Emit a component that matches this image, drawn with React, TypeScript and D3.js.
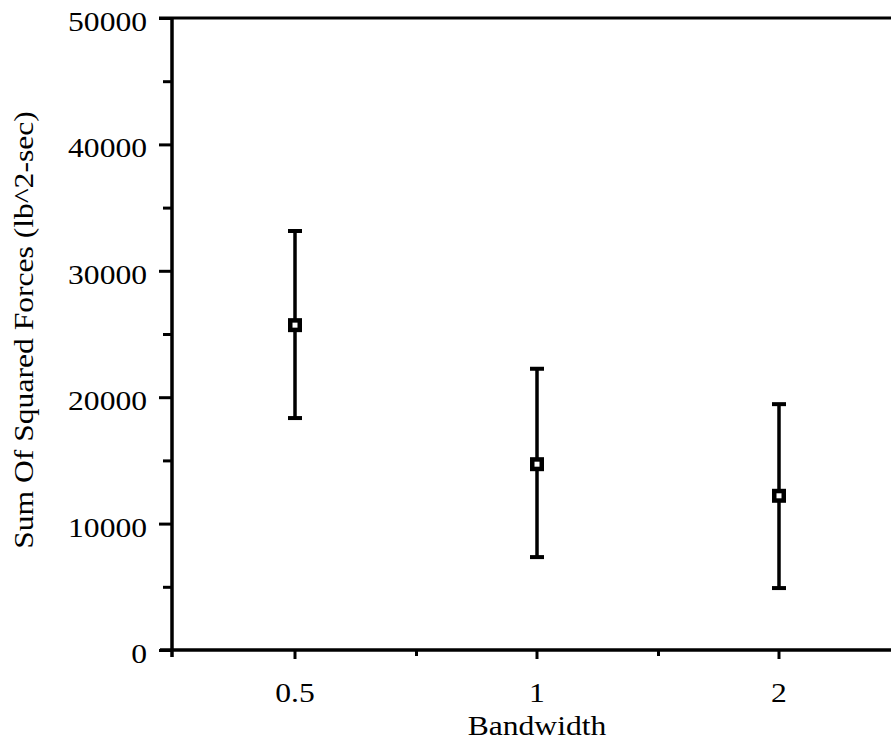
import React, { useEffect, useRef } from 'react';
import * as d3 from 'd3';

// values (lb^2-sec)
const bandwidths = ['0.5', '1', '2'];
const meanForce = [25700, 14700, 12200];
const upperForce = [33150, 22250, 19450];
const lowerForce = [18350, 7350, 4900];
const yMajorTicks = [0, 10000, 20000, 30000, 40000, 50000];
const yMinorTicks = [5000, 15000, 25000, 35000, 45000];

const W = 891;
const H = 744;
const FONT = '"Liberation Serif", "Times New Roman", serif';
const FS = 27;
const STRETCH = 1.17; // the old Mac serif is wider than Times

const App = () => {
  const ref = useRef<SVGSVGElement>(null);

  useEffect(() => {
    const svg = d3.select(ref.current);
    svg.selectAll('*').remove();

    const y = d3.scaleLinear().domain([0, 50000]).range([650, 18]);
    const x = d3.scaleBand().domain(bandwidths).range([174, 900]);
    const xc = (d: string) => (x(d) as number) + x.bandwidth() / 2;
    const axisX = 172;
    const rows = bandwidths.map((b, i) => ({ b, mean: meanForce[i], hi: upperForce[i], lo: lowerForce[i] }));

    // frame: top line, y axis, x axis
    svg.append('line')
      .attr('x1', 159).attr('x2', W).attr('y1', y(50000)).attr('y2', y(50000))
      .attr('stroke', '#000').attr('stroke-width', 3);
    svg.append('line')
      .attr('x1', axisX).attr('x2', axisX).attr('y1', y(50000)).attr('y2', y(0) + 7)
      .attr('stroke', '#000').attr('stroke-width', 3.5);
    svg.append('line')
      .attr('x1', 160).attr('x2', W).attr('y1', y(0)).attr('y2', y(0))
      .attr('stroke', '#000').attr('stroke-width', 3.5);

    // y ticks
    svg.append('g')
      .attr('transform', `translate(${axisX},0)`)
      .call(d3.axisLeft(y).tickValues(yMajorTicks).tickSize(13).tickSizeOuter(0).tickFormat(() => ''))
      .call((g) => g.select('.domain').remove())
      .call((g) => g.selectAll('line').attr('stroke-width', 3));
    svg.append('g')
      .attr('transform', `translate(${axisX},0)`)
      .call(d3.axisLeft(y).tickValues(yMinorTicks).tickSize(9).tickSizeOuter(0).tickFormat(() => ''))
      .call((g) => g.select('.domain').remove())
      .call((g) => g.selectAll('line').attr('stroke-width', 3));

    // x ticks
    svg.append('g')
      .attr('transform', `translate(0,${y(0)})`)
      .call(d3.axisBottom(x).tickSize(9).tickSizeOuter(0).tickFormat(() => ''))
      .call((g) => g.select('.domain').remove())
      .call((g) => g.selectAll('line').attr('stroke-width', 3));
    svg.append('g')
      .attr('transform', `translate(0,${y(0)})`)
      .call(d3.axisBottom(d3.scaleIdentity()).tickValues(bandwidths.slice(1).map((d) => x(d) as number)).tickSize(6).tickSizeOuter(0).tickFormat(() => ''))
      .call((g) => g.select('.domain').remove())
      .call((g) => g.selectAll('line').attr('stroke-width', 3));

    const txt = svg.append('g')
      .attr('font-family', FONT).attr('font-size', FS).attr('fill', '#000');

    txt.selectAll('.ylab').data(yMajorTicks).enter().append('text')
      .attr('class', 'ylab')
      .attr('text-anchor', 'end')
      .attr('transform', (d) => `translate(147,${y(d) + 13}) scale(${STRETCH},1)`)
      .text((d) => String(d));

    txt.selectAll('.xlab').data(bandwidths).enter().append('text')
      .attr('class', 'xlab')
      .attr('text-anchor', 'middle')
      .attr('transform', (d) => `translate(${xc(d)},702) scale(${STRETCH},1)`)
      .text((d) => d);

    txt.append('text')
      .attr('text-anchor', 'middle')
      .attr('transform', `translate(537,735) scale(${STRETCH},1)`)
      .text('Bandwidth');

    txt.append('text')
      .attr('text-anchor', 'middle')
      .attr('transform', `translate(33,330) rotate(-90) scale(${STRETCH},1)`)
      .text('Sum Of Squared Forces (lb^2-sec)');

    // error bars
    const bars = svg.selectAll('.bar').data(rows).enter().append('g').attr('class', 'bar');
    bars.append('line')
      .attr('x1', (d) => xc(d.b)).attr('x2', (d) => xc(d.b))
      .attr('y1', (d) => y(d.hi)).attr('y2', (d) => y(d.lo))
      .attr('stroke', '#000').attr('stroke-width', 3.5);
    bars.append('line')
      .attr('x1', (d) => xc(d.b) - 7).attr('x2', (d) => xc(d.b) + 7)
      .attr('y1', (d) => y(d.hi)).attr('y2', (d) => y(d.hi))
      .attr('stroke', '#000').attr('stroke-width', 4);
    bars.append('line')
      .attr('x1', (d) => xc(d.b) - 7).attr('x2', (d) => xc(d.b) + 7)
      .attr('y1', (d) => y(d.lo)).attr('y2', (d) => y(d.lo))
      .attr('stroke', '#000').attr('stroke-width', 4);
    bars.append('rect')
      .attr('x', (d) => xc(d.b) - 4.75).attr('y', (d) => y(d.mean) - 4.75)
      .attr('width', 9.5).attr('height', 9.5)
      .attr('fill', '#fff').attr('stroke', '#000').attr('stroke-width', 4.5);
  }, []);

  return (
    <svg ref={ref} width={W} height={H}
      style={{ position: 'absolute', left: 0, top: 0, background: '#fff' }} />
  );
};

export default App;
